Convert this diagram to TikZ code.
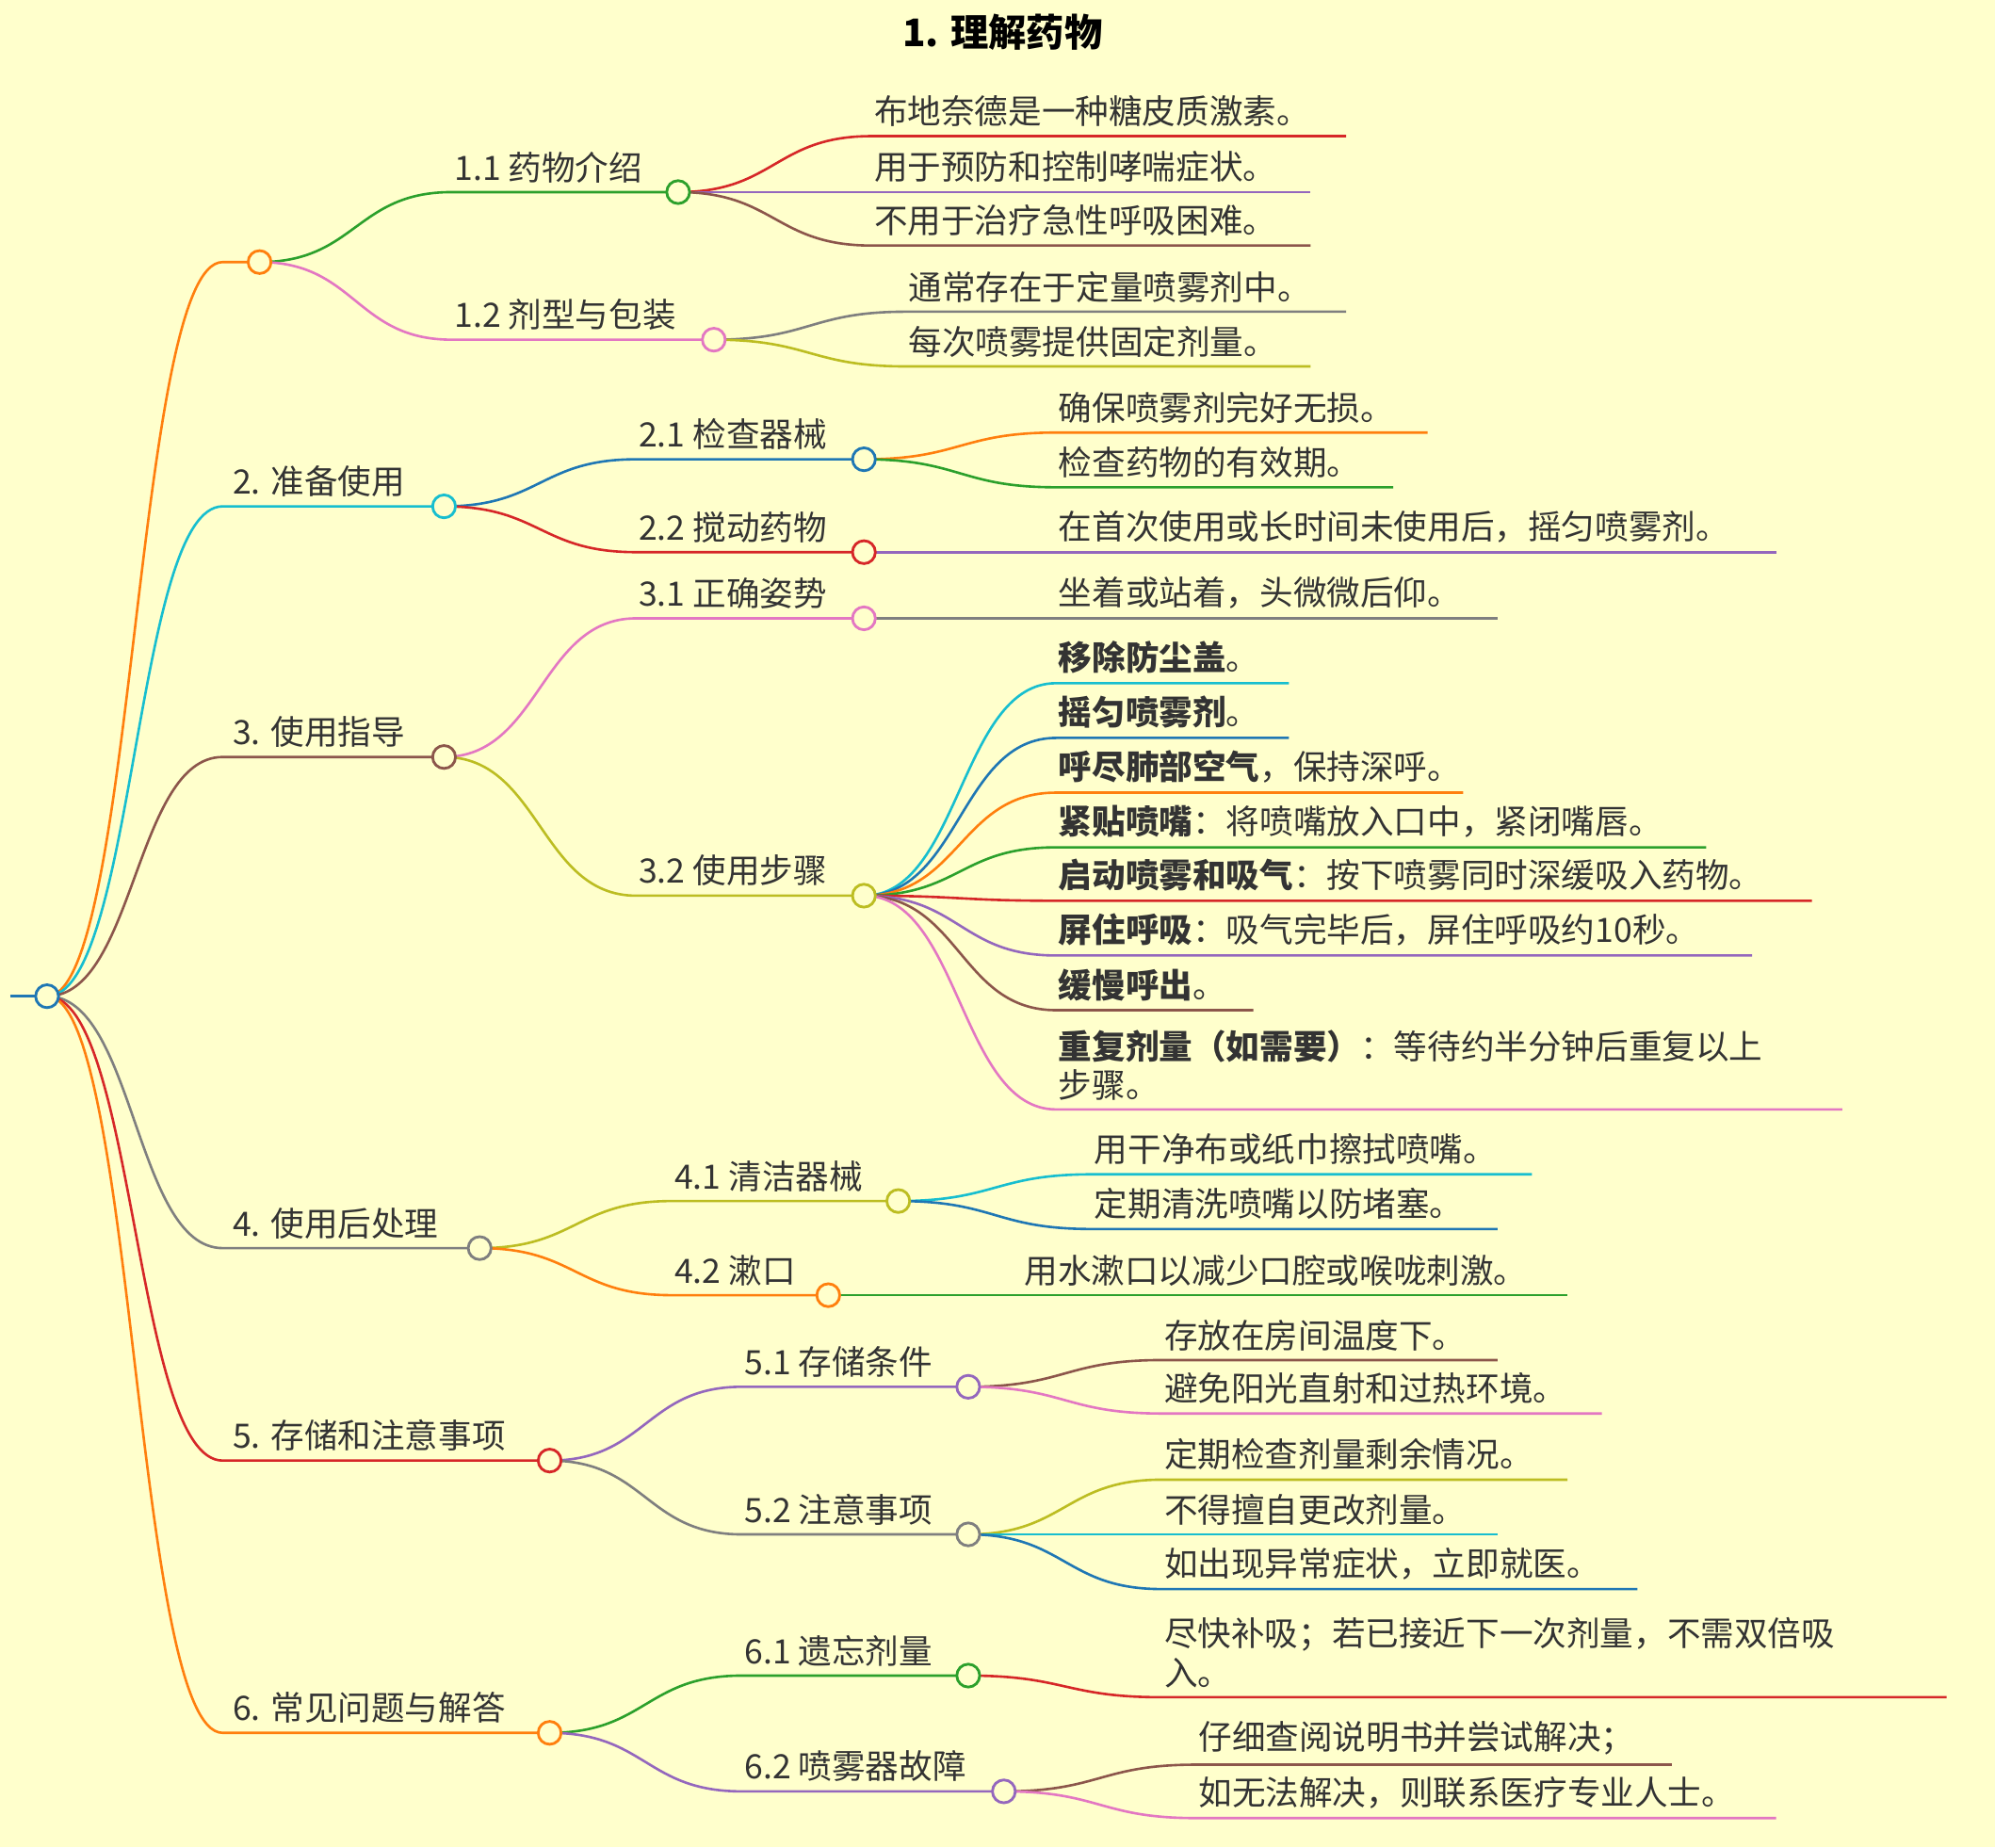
\documentclass[tikz,border=0pt]{standalone}
\usepackage{fontspec}
\setmainfont{Noto Sans CJK SC}
\begin{document}
\begin{tikzpicture}[x=0.02cm,y=-0.02cm,
  conn/.style={line width=1.1pt},
  txt/.style={font=\fontsize{15}{21}\selectfont,text=black!80,inner sep=1pt,yshift=3pt},
  hubc/.style={circle,fill=bgc,line width=1.2pt,minimum size=0.36cm,inner sep=0pt}]
\definecolor{bgc}{HTML}{FFFFCC}
\definecolor{cO}{HTML}{FF7F0E}\definecolor{cG}{HTML}{2CA02C}\definecolor{cR}{HTML}{D62728}
\definecolor{cP}{HTML}{9467BD}\definecolor{cB}{HTML}{8C564B}\definecolor{cK}{HTML}{E377C2}
\definecolor{cY}{HTML}{7F7F7F}\definecolor{cL}{HTML}{BCBD22}\definecolor{cC}{HTML}{17BECF}
\definecolor{cU}{HTML}{1F77B4}
\fill[bgc] (0,0) rectangle (1568,1452);
\useasboundingbox (0,0) rectangle (1568,1452);
\newcommand\leaf[8]{\pgfmathsetmacro\xm{(#3+#5)/2}
  \draw[#2,conn] (#3,#4) .. controls (\xm,#4) and (\xm,#6) .. (#5,#6) -- (#7,#6);
  \node[txt,anchor=south west] (#1) at (#5,#6) {#8};}
\newcommand\hub[4]{\node[hubc,draw=#2] (#1) at (#3,#4) {};}
\node[font=\fontsize{17}{20}\selectfont\bfseries,text=black] (title) at (788,25) {1. 理解药物};
% root
\draw[cU,conn] (8,783) -- (37,783);
\leaf{a0}{cO}{37}{783}{175}{206}{204}{}
\leaf{a2}{cC}{37}{783}{175}{398}{349}{\ 2. 准备使用}
\leaf{a3}{cB}{37}{783}{175}{595}{349}{\ 3. 使用指导}
\leaf{a4}{cY}{37}{783}{175}{981}{377}{\ 4. 使用后处理}
\leaf{a5}{cR}{37}{783}{175}{1148}{432}{\ 5. 存储和注意事项}
\leaf{a6}{cO}{37}{783}{175}{1362}{432}{\ 6. 常见问题与解答}
% 1
\leaf{b11}{cG}{204}{206}{355}{151}{533}{1.1\ 药物介绍}
\leaf{b12}{cK}{204}{206}{355}{267}{561}{1.2\ 剂型与包装}
\leaf{c1}{cR}{533}{151}{685}{107}{1058}{布地奈德是一种糖皮质激素。}
\leaf{c2}{cP}{533}{151}{685}{151}{1030}{用于预防和控制哮喘症状。}
\leaf{c3}{cB}{533}{151}{685}{193}{1030}{不用于治疗急性呼吸困难。}
\leaf{c4}{cY}{561}{267}{712}{245}{1058}{通常存在于定量喷雾剂中。}
\leaf{c5}{cL}{561}{267}{712}{288}{1030}{每次喷雾提供固定剂量。}
% 2
\leaf{b21}{cU}{349}{398}{500}{361}{679}{2.1\ 检查器械}
\leaf{b22}{cR}{349}{398}{500}{434}{679}{2.2\ 搅动药物}
\leaf{c6}{cO}{679}{361}{830}{340}{1122}{确保喷雾剂完好无损。}
\leaf{c7}{cG}{679}{361}{830}{383}{1095}{检查药物的有效期。}
\leaf{c8}{cP}{679}{434}{830}{434}{1396}{在首次使用或长时间未使用后，摇匀喷雾剂。}
% 3
\leaf{b31}{cK}{349}{595}{500}{486}{679}{3.1\ 正确姿势}
\leaf{b32}{cL}{349}{595}{500}{704}{679}{3.2\ 使用步骤}
\leaf{c9}{cY}{679}{486}{830}{486}{1177}{坐着或站着，头微微后仰。}
\leaf{d1}{cC}{679}{704}{830}{537}{1013}{\textbf{移除防尘盖}。}
\leaf{d2}{cU}{679}{704}{830}{580}{1013}{\textbf{摇匀喷雾剂}。}
\leaf{d3}{cO}{679}{704}{830}{623}{1150}{\textbf{呼尽肺部空气}，保持深呼。}
\leaf{d4}{cG}{679}{704}{830}{666}{1341}{\textbf{紧贴喷嘴}：将喷嘴放入口中，紧闭嘴唇。}
\leaf{d5}{cR}{679}{704}{830}{708}{1424}{\textbf{启动喷雾和吸气}：按下喷雾同时深缓吸入药物。}
\leaf{d6}{cP}{679}{704}{830}{751}{1377}{\textbf{屏住呼吸}：吸气完毕后，屏住呼吸约10秒。}
\leaf{d7}{cB}{679}{704}{830}{794}{985}{\textbf{缓慢呼出}。}
\leaf{d8}{cK}{679}{704}{830}{872}{1448}{\shortstack[l]{\textbf{重复剂量（如需要）}：等待约半分钟后重复以上\\步骤。}}
% 4
\leaf{b41}{cL}{377}{981}{528}{944}{706}{4.1\ 清洁器械}
\leaf{b42}{cO}{377}{981}{528}{1018}{651}{4.2\ 漱口}
\leaf{e1}{cC}{706}{944}{858}{923}{1204}{用干净布或纸巾擦拭喷嘴。}
\leaf{e2}{cU}{706}{944}{858}{966}{1177}{定期清洗喷嘴以防堵塞。}
\leaf{e3}{cG}{651}{1018}{803}{1018}{1232}{用水漱口以减少口腔或喉咙刺激。}
% 5
\leaf{b51}{cP}{432}{1148}{583}{1090}{761}{5.1\ 存储条件}
\leaf{b52}{cY}{432}{1148}{583}{1206}{761}{5.2\ 注意事项}
\leaf{f1}{cB}{761}{1090}{913}{1069}{1177}{存放在房间温度下。}
\leaf{f2}{cK}{761}{1090}{913}{1111}{1259}{避免阳光直射和过热环境。}
\leaf{f3}{cL}{761}{1206}{913}{1163}{1232}{定期检查剂量剩余情况。}
\leaf{f4}{cC}{761}{1206}{913}{1206}{1177}{不得擅自更改剂量。}
\leaf{f5}{cU}{761}{1206}{913}{1249}{1287}{如出现异常症状，立即就医。}
% 6
\leaf{b61}{cG}{432}{1362}{583}{1317}{761}{6.1\ 遗忘剂量}
\leaf{b62}{cP}{432}{1362}{583}{1408}{789}{6.2\ 喷雾器故障}
\leaf{g1}{cR}{761}{1317}{913}{1334}{1530}{\shortstack[l]{尽快补吸；若已接近下一次剂量，不需双倍吸\\入。}}
\leaf{g2}{cB}{789}{1408}{940}{1387}{1314}{仔细查阅说明书并尝试解决；}
\leaf{g3}{cK}{789}{1408}{940}{1429}{1396}{如无法解决，则联系医疗专业人士。}
% hubs
\hub{r}{cU}{37}{783}
\hub{h0}{cO}{204}{206}\hub{h2}{cC}{349}{398}\hub{h3}{cB}{349}{595}
\hub{h4}{cY}{377}{981}\hub{h5}{cR}{432}{1148}\hub{h6}{cO}{432}{1362}
\hub{h11}{cG}{533}{151}\hub{h12}{cK}{561}{267}
\hub{h21}{cU}{679}{361}\hub{h22}{cR}{679}{434}
\hub{h31}{cK}{679}{486}\hub{h32}{cL}{679}{704}
\hub{h41}{cL}{706}{944}\hub{h42}{cO}{651}{1018}
\hub{h51}{cP}{761}{1090}\hub{h52}{cY}{761}{1206}
\hub{h61}{cG}{761}{1317}\hub{h62}{cP}{789}{1408}
\end{tikzpicture}
\end{document}
